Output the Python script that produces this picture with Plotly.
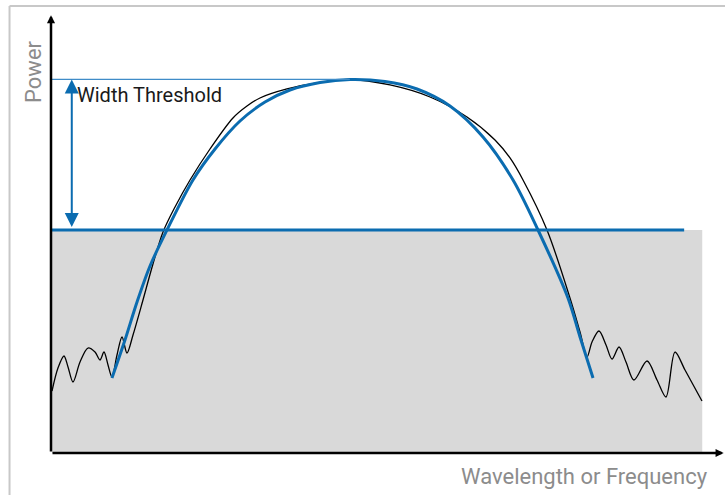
import plotly.graph_objects as go

# ---- data (normalised units: x 0..100, y 0..100) ----
fit_x = [9.10, 11.04, 12.84, 14.78, 17.31, 21.19, 24.48, 28.21, 31.94, 35.67, 40.15,
         44.63, 49.85, 54.63, 59.55, 64.48, 68.96, 72.69, 77.16, 78.96, 80.90]
fit_y = [17.05, 25.68, 34.32, 42.50, 50.68, 62.05, 69.09, 75.45, 79.77, 82.50, 84.20,
         84.89, 84.43, 82.73, 78.86, 71.82, 62.05, 50.68, 35.23, 26.36, 17.05]

spec_x = [0.15, 1.04, 1.94, 2.54, 3.28, 4.33, 5.52, 6.57, 7.31, 7.91, 8.51, 9.10,
          9.85, 10.60, 11.34, 12.24, 13.73, 15.22, 16.72, 18.51, 20.75, 23.73,
          27.16, 29.25, 31.19, 35.22, 39.70, 44.63, 50.60, 56.57, 62.09, 66.27,
          68.51, 70.45, 74.03, 77.46, 78.96, 80.00, 80.75, 81.79, 82.84, 83.73,
          84.78, 85.82, 87.01, 88.96, 90.45, 91.79, 93.13, 94.63, 97.16]
spec_y = [14.09, 19.32, 22.05, 19.55, 16.14, 20.68, 23.86, 22.95, 21.14, 22.95, 20.00, 17.27,
          22.27, 26.36, 22.73, 26.82, 34.77, 42.95, 50.23, 55.91, 62.05, 69.09,
          76.14, 78.86, 80.68, 82.73, 84.09, 84.89, 83.64, 80.91, 76.36, 71.14,
          67.05, 62.05, 50.68, 35.23, 27.50, 21.82, 25.23, 27.73, 24.55, 21.36,
          24.09, 20.68, 16.59, 20.91, 16.59, 12.73, 22.95, 18.86, 11.82]

threshold = 50.7
peak = 84.9
peak_x = 44.6
threshold_end_x = 94.5
band_end_x = 97.2
arrow_x = 3.1

BLUE = "#0b6cb0"
FONT = "Roboto"

fig = go.Figure()

fig.add_trace(go.Scatter(x=spec_x, y=spec_y, mode="lines",
                         line=dict(color="black", width=1.3, shape="spline", smoothing=0.9),
                         hoverinfo="skip"))
fig.add_trace(go.Scatter(x=fit_x, y=fit_y, mode="lines",
                         line=dict(color=BLUE, width=3, shape="spline", smoothing=0.9),
                         hoverinfo="skip"))

shapes = [
    dict(type="rect", x0=0.15, x1=band_end_x, y0=0, y1=threshold, xref="x", yref="y",
         fillcolor="#d9d9d9", line=dict(width=0), layer="below"),
    dict(type="line", x0=0.15, x1=threshold_end_x, y0=threshold, y1=threshold, xref="x", yref="y",
         line=dict(color=BLUE, width=3)),
    dict(type="line", x0=0, x1=peak_x, y0=peak, y1=peak, xref="x", yref="y",
         line=dict(color="#3f8cc8", width=1.2)),
    # outer frame
    dict(type="line", xref="paper", yref="paper", x0=-0.0619, x1=-0.0619, y0=-0.3, y1=1.0159,
         line=dict(color="#c8c8c8", width=2)),
    dict(type="line", xref="paper", yref="paper", x0=-0.0619, x1=1.2, y0=1.0159, y1=1.0159,
         line=dict(color="#c8c8c8", width=2)),
]

annotations = [
    # y axis arrow
    dict(x=0, y=99.5, ax=0, ay=0, xref="x", yref="y", axref="x", ayref="y", text="",
         showarrow=True, arrowhead=2, arrowsize=0.65, arrowwidth=2.5, arrowcolor="black", standoff=0),
    # x axis arrow
    dict(x=100.4, y=0, ax=0, ay=0, xref="x", yref="y", axref="x", ayref="y", text="",
         showarrow=True, arrowhead=2, arrowsize=0.65, arrowwidth=2.5, arrowcolor="black", standoff=0),
    # width threshold double arrow
    dict(x=arrow_x, y=peak, ax=arrow_x, ay=threshold + 0.3, xref="x", yref="y", axref="x", ayref="y",
         text="", showarrow=True, arrowhead=2, startarrowhead=2, arrowside="end+start",
         arrowsize=1.4, startarrowsize=1.4, arrowwidth=2, arrowcolor=BLUE, standoff=0, startstandoff=0),
    dict(x=3.65, y=81.4, xref="x", yref="y", text="Width Threshold", showarrow=False,
         xanchor="left", yanchor="middle", font=dict(family=FONT, size=20, color="#1a1a1a")),
    dict(x=-0.0254, y=0.866, xref="paper", yref="paper", text="Power", showarrow=False,
         textangle=-90, xanchor="center", yanchor="middle",
         font=dict(family=FONT, size=22, color="#8c8c8c")),
    dict(x=0.9836, y=-0.0545, xref="paper", yref="paper", text="Wavelength or Frequency",
         showarrow=False, xanchor="right", yanchor="middle",
         font=dict(family=FONT, size=22, color="#8c8c8c")),
]

fig.update_layout(
    width=725, height=495,
    margin=dict(l=51, r=4, t=13, b=42),
    paper_bgcolor="white", plot_bgcolor="white",
    showlegend=False,
    xaxis=dict(range=[0, 100], visible=False, fixedrange=True),
    yaxis=dict(range=[0, 100], visible=False, fixedrange=True),
    shapes=shapes, annotations=annotations,
)

fig.write_html("out.html", config={"displayModeBar": False},
               post_script="document.body.style.margin='0px';document.body.style.overflow='hidden';")
